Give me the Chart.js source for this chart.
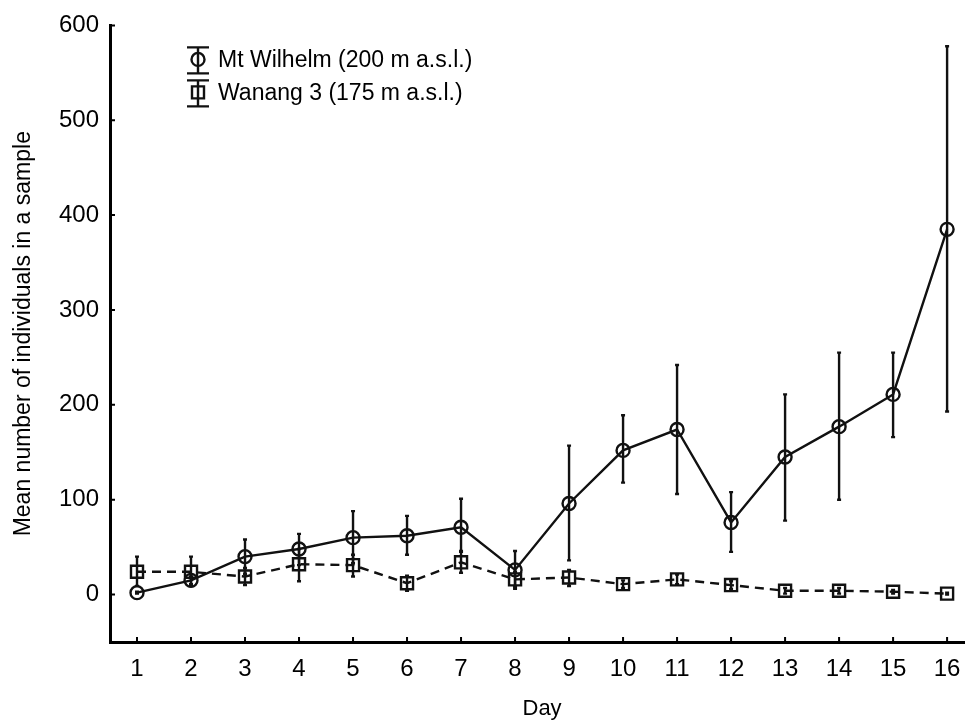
<!DOCTYPE html>
<html>
<head>
<meta charset="utf-8">
<script src="https://cdn.jsdelivr.net/npm/chart.js@4"></script>
<style>
  html, body { margin: 0; padding: 0; background: #fff; overflow: hidden; }
  #wrap { width: 985px; height: 722px; overflow: hidden; }
  #myChart { width: 985px; height: 722px; display: block; }
</style>
</head>
<body>
<div id="wrap"><canvas id="myChart" width="985" height="722"></canvas></div>
<script>
// values
const days = [1, 2, 3, 4, 5, 6, 7, 8, 9, 10, 11, 12, 13, 14, 15, 16]
const yTicks = [0, 100, 200, 300, 400, 500, 600]

const wilhelmMean = [2, 15, 40, 48, 60, 62, 71, 26, 96, 152, 174, 76, 145, 177, 211, 385]
const wilhelmLow  = [1, 11, 22, 31, 33, 42, 45, 6, 36, 118, 106, 45, 78, 100, 166, 193]
const wilhelmHigh = [3, 19, 58, 64, 88, 83, 101, 46, 157, 189, 242, 108, 211, 255, 255, 578]

const wanangMean = [24, 24, 19, 32, 31, 12, 34, 16, 18, 11, 16, 10, 4, 4, 3, 1]
const wanangLow  = [9, 9, 10, 14, 19, 4, 23, 8, 9, 7, 11, 6, 1, 1, 1, 0]
const wanangHigh = [40, 40, 28, 48, 42, 20, 46, 24, 26, 15, 21, 14, 7, 7, 5, 2]

Chart.defaults.font.family = "'Liberation Sans', Arial, sans-serif"
Chart.defaults.color = '#000'

function toPoints(means) {
    return days.map((d, i) => ({ x: d, y: means[i] }))
}

// vertical error bars drawn through the scales
const errorBars = {
    id: 'errorBars',
    afterDatasetsDraw(chart) {
        const ctx = chart.ctx
        const xs = chart.scales.x, ys = chart.scales.y
        ctx.save()
        ctx.strokeStyle = '#111'
        ctx.lineWidth = 2.4
        chart.data.datasets.forEach(ds => {
            days.forEach((d, i) => {
                const x = xs.getPixelForValue(d)
                const y1 = ys.getPixelForValue(ds.lo[i])
                const y2 = ys.getPixelForValue(ds.hi[i])
                ctx.beginPath()
                ctx.moveTo(x, y1); ctx.lineTo(x, y2)
                ctx.moveTo(x - 2, y1); ctx.lineTo(x + 2, y1)
                ctx.moveTo(x - 2, y2); ctx.lineTo(x + 2, y2)
                ctx.stroke()
            })
        })
        ctx.restore()
    }
}

// small tick marks pointing into the plot
const innerTicks = {
    id: 'innerTicks',
    afterDraw(chart) {
        const ctx = chart.ctx
        const xs = chart.scales.x, ys = chart.scales.y
        const area = chart.chartArea
        ctx.save()
        ctx.strokeStyle = '#000'
        ctx.lineWidth = 2
        ctx.beginPath()
        for (let d of days) {
            const x = xs.getPixelForValue(d)
            ctx.moveTo(x, area.bottom); ctx.lineTo(x, area.bottom - 5)
        }
        for (let v of yTicks) {
            const y = ys.getPixelForValue(v)
            ctx.moveTo(area.left, y); ctx.lineTo(area.left + 5, y)
        }
        ctx.stroke()
        ctx.restore()
    }
}

// legend with error bar symbols, top left inside the plot
const legendBox = {
    id: 'legendBox',
    afterDraw(chart) {
        const ctx = chart.ctx
        const area = chart.chartArea
        const sx = area.left + 88
        ctx.save()
        chart.data.datasets.forEach((ds, i) => {
            const y = area.top + 34 + i * 33
            ctx.strokeStyle = '#111'
            ctx.lineWidth = 2.4
            ctx.setLineDash([])
            ctx.beginPath()
            ctx.moveTo(sx, y - 12); ctx.lineTo(sx, y + 14)
            ctx.moveTo(sx - 11, y - 12); ctx.lineTo(sx + 11, y - 12)
            ctx.moveTo(sx - 11, y + 14); ctx.lineTo(sx + 11, y + 14)
            ctx.stroke()
            ctx.beginPath()
            if (ds.pointStyle === 'circle') {
                ctx.arc(sx, y, 6.5, 0, Math.PI * 2)
            } else {
                ctx.rect(sx - 6, y - 6, 12, 12)
            }
            ctx.stroke()
            ctx.fillStyle = '#000'
            ctx.font = "23px 'Liberation Sans', Arial, sans-serif"
            ctx.textBaseline = 'middle'
            ctx.textAlign = 'left'
            ctx.fillText(ds.label, sx + 20, y + 1)
        })
        ctx.restore()
    }
}

function renderChart() {
    let ctx = document.getElementById('myChart').getContext('2d')
    new Chart(ctx, {
        type: 'line',
        data: {
            datasets: [{
                label: 'Mt Wilhelm (200 m a.s.l.)',
                data: toPoints(wilhelmMean),
                lo: wilhelmLow,
                hi: wilhelmHigh,
                borderColor: '#111',
                borderWidth: 2.4,
                pointStyle: 'circle',
                pointRadius: 6.5,
                pointBorderWidth: 2.4,
                pointBorderColor: '#111',
                pointBackgroundColor: 'rgba(0,0,0,0)',
                tension: 0
            }, {
                label: 'Wanang 3 (175 m a.s.l.)',
                data: toPoints(wanangMean),
                lo: wanangLow,
                hi: wanangHigh,
                borderColor: '#111',
                borderWidth: 2.4,
                borderDash: [9, 6],
                pointStyle: 'rect',
                pointRadius: 8.5,
                pointBorderWidth: 2.4,
                pointBorderColor: '#111',
                pointBackgroundColor: 'rgba(0,0,0,0)',
                tension: 0
            }]
        },
        options: {
            responsive: false,
            animation: false,
            layout: { padding: { top: 23, right: 0, bottom: 0, left: 0 } },
            plugins: {
                legend: { display: false },
                tooltip: { enabled: false }
            },
            scales: {
                x: {
                    type: 'linear',
                    min: 0.5,
                    max: 16.5,
                    afterBuildTicks: s => { s.ticks = days.map(v => ({ value: v })) },
                    afterFit: s => { s.height = 80 },
                    grid: { display: false, drawTicks: false },
                    border: { display: true, color: '#000', width: 3 },
                    ticks: { padding: 13, font: { size: 24 }, color: '#000' },
                    title: { display: true, text: 'Day', font: { size: 22 }, color: '#000', padding: { top: 2, bottom: 0 } }
                },
                y: {
                    min: -50,
                    max: 600,
                    afterBuildTicks: s => { s.ticks = yTicks.map(v => ({ value: v })) },
                    afterFit: s => { s.width = 110 },
                    grid: { display: false, drawTicks: false },
                    border: { display: true, color: '#000', width: 3 },
                    ticks: { padding: 11, font: { size: 24 }, color: '#000' },
                    title: { display: true, text: 'Mean number of individuals in a sample', font: { size: 23 }, color: '#000', padding: { top: 10, bottom: 0 } }
                }
            }
        },
        plugins: [errorBars, innerTicks, legendBox]
    })
}

renderChart()
</script>
</body>
</html>
